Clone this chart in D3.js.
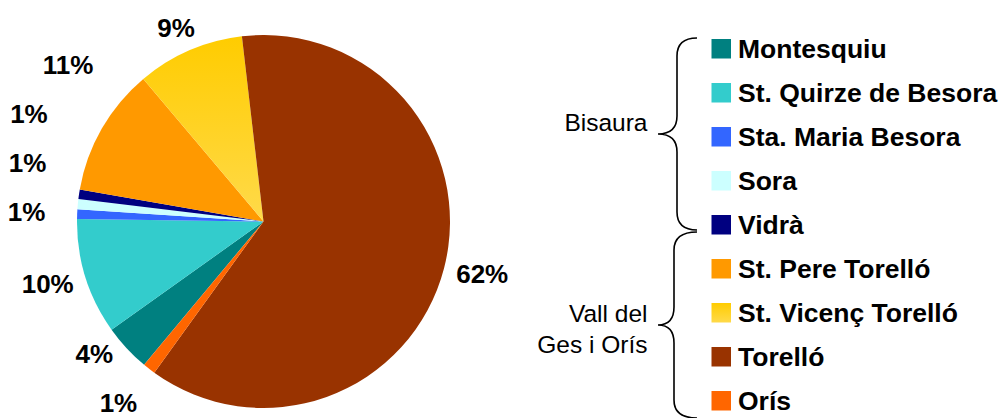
<!DOCTYPE html>
<html><head><meta charset="utf-8">
<script src="https://cdn.jsdelivr.net/npm/d3@7"></script>
<style>
html,body{margin:0;padding:0;background:#fff;}
svg{display:block;}
</style></head>
<body>
<svg id="chart" width="1005" height="418"></svg>
<script>
// ---- data ----
const categories = ["Montesquiu","St. Quirze de Besora","Sta. Maria Besora","Sora","Vidrà","St. Pere Torelló","St. Vicenç Torelló","Torelló","Orís"];
const values = [4.1, 10.06, 0.83, 0.875, 0.83, 11.1, 9.3, 61.8, 1.1];
const colors = ["#008080","#33CCCC","#3366FF","#CCFFFF","#000080","#FF9900","url(#gradVic)","#993300","#FF6600"];
const groups = [
  {name:["Bisaura"], first:0, last:4},
  {name:["Vall del","Ges i Orís"], first:5, last:8}
];

// ---- layout ----
const W = 1005, H = 418;
const svg = d3.select("#chart");
const cx = 263.5, cy = 221.5, r = 186.5;
const startDeg = -140.2;
const total = d3.sum(values);

const defs = svg.append("defs");
const g1 = defs.append("linearGradient").attr("id","gradVic")
  .attr("x1",0).attr("y1",0).attr("x2",0).attr("y2",1);
g1.append("stop").attr("offset","0%").attr("stop-color","#FFCC00");
g1.append("stop").attr("offset","100%").attr("stop-color","#FFDA4A");

const pie = d3.pie().sort(null).value(d=>d)
  .startAngle(startDeg*Math.PI/180)
  .endAngle(startDeg*Math.PI/180 + 2*Math.PI);
const arcs = pie(values);
const arc = d3.arc().innerRadius(0).outerRadius(r);

const gPie = svg.append("g").attr("transform",`translate(${cx},${cy})`);
gPie.selectAll("path").data(arcs).join("path")
  .attr("d", arc)
  .attr("fill", (d,i)=>colors[i]);

// ---- labels ----
const fmt = d3.format(".0%");
const labelFont = "bold 26px 'Liberation Sans', Arial, sans-serif";
const canvas = document.createElement("canvas").getContext("2d");
canvas.font = labelFont;
const lh = 18, minGap = 49, yMin = 12, yMax = H - 15;
const labels = arcs.map((d,i)=>{
  const a = (d.startAngle + d.endAngle)/2;
  const share = d.value/total;
  const Re = 200 + 20*(1 - Math.min(1, share/0.10)); // thin slices sit a bit farther out
  const text = fmt(share);
  const w = canvas.measureText(text).width;
  const s = Math.sin(a), c = Math.cos(a);
  return {i, text, w, a,
    x: cx + Re*s + s*w/2,
    y: cy - Re*c - c*lh/2};
});
function hOverlap(p,q){ return Math.abs(p.x-q.x) < (p.w+q.w)/2; }
// upper half: push upward (bottom to top)
const upper = labels.filter(l=>l.y < cy).sort((p,q)=>q.y-p.y);
for(let k=0;k<upper.length;k++){
  for(let j=0;j<k;j++){
    if(hOverlap(upper[k],upper[j]) && upper[j].y - upper[k].y < minGap)
      upper[k].y = upper[j].y - minGap;
  }
}
// lower half: push downward, then keep inside the canvas
const lower = labels.filter(l=>l.y >= cy).sort((p,q)=>p.y-q.y);
for(let k=0;k<lower.length;k++){
  for(let j=0;j<k;j++){
    if(hOverlap(lower[k],lower[j]) && lower[k].y - lower[j].y < minGap)
      lower[k].y = lower[j].y + minGap;
  }
}
for(let k=lower.length-1;k>=0;k--){
  if(lower[k].y > yMax) lower[k].y = yMax;
  for(let j=lower.length-1;j>k;j--){
    if(hOverlap(lower[k],lower[j]) && lower[j].y - lower[k].y < minGap)
      lower[k].y = Math.min(lower[k].y, lower[j].y - minGap);
  }
}
svg.append("g").selectAll("text").data(labels).join("text")
  .attr("x", d=>d.x).attr("y", d=>d.y)
  .attr("text-anchor","middle").attr("dominant-baseline","central")
  .style("font", labelFont).attr("fill","#000")
  .text(d=>d.text);

// ---- legend ----
const rowY = d3.scaleLinear().domain([0,1]).range([39,83]); // top of swatch per row
const sw = 19.5;
const leg = svg.append("g");
const rows = leg.selectAll("g").data(categories).join("g")
  .attr("transform",(d,i)=>`translate(711.5,${rowY(i)})`);
rows.append("rect").attr("width",sw).attr("height",sw)
  .attr("fill",(d,i)=>colors[i]);
rows.append("text").attr("x",26.5).attr("y",sw-1)
  .style("font","bold 26.5px 'Liberation Sans', Arial, sans-serif")
  .attr("fill","#000").text(d=>d);

// ---- braces ----
const braceTop = [rowY(groups[0].first)-1, rowY(groups[1].first)-27];
const braceBot = [rowY(groups[0].last)+15, rowY(groups[1].last)+27];
const vx = [677, 674];
groups.forEach((grp,gi)=>{
  const t = braceTop[gi], b = braceBot[gi], m = (t+b)/2;
  const x0 = 697, xv = vx[gi], xt = 658, rr = 18;
  const p = d3.path();
  p.moveTo(x0, t);
  p.quadraticCurveTo(xv, t, xv, t+rr);
  p.lineTo(xv, m-rr);
  p.quadraticCurveTo(xv, m, xt, m);
  p.quadraticCurveTo(xv, m, xv, m+rr);
  p.lineTo(xv, b-rr);
  p.quadraticCurveTo(xv, b, x0, b);
  svg.append("path").attr("d", p.toString())
    .attr("fill","none").attr("stroke","#000").attr("stroke-width",1.6);
  const tx = svg.append("text").attr("text-anchor","end")
    .style("font","24.5px 'Liberation Sans', Arial, sans-serif").attr("fill","#000");
  const lhh = 31;
  grp.name.forEach((ln,k)=>{
    tx.append("tspan").attr("x",647.5)
      .attr("y", m - 3 + k*lhh)
      .text(ln);
  });
});
</script>
</body></html>
